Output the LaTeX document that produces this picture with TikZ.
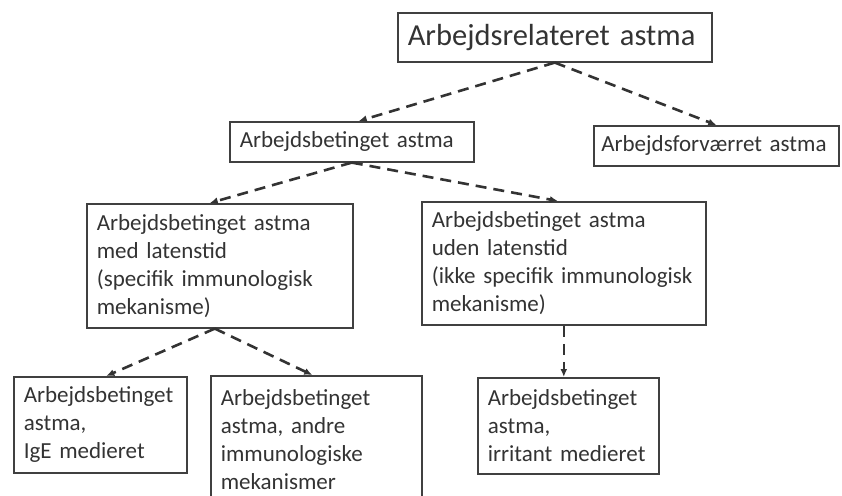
\documentclass[tikz,border=0pt]{standalone}
\usepackage{fontspec}
\setmainfont{Carlito}[WordSpace=0.8]
\usepackage{tikz}
\usetikzlibrary{positioning, arrows.meta}

\begin{document}
\begin{tikzpicture}[x=1pt, y=-1pt,
    box/.style={draw=black!75, line width=1.6pt, text=black!80, align=left,
      anchor=north west, inner sep=10pt, font=\fontsize{23}{28}\selectfont},
    link/.style={-{Latex[length=8pt,width=7pt]}, draw=black!80, line width=2.6pt,
      dash pattern=on 11pt off 7pt}]
    \useasboundingbox (0,0) rectangle (842,495);
    \clip (0,0) rectangle (842,495);

    % top level
    \node[box, text width=294pt, minimum height=49pt,
      font=\fontsize{30.5}{34}\selectfont] (rel) at (397,12) {Arbejdsrelateret astma};

    % second level
    \node[box, text width=224pt, minimum height=40pt] (bet) at (229,121) {Arbejdsbetinget astma};
    \node[box, text width=230pt, inner xsep=7.5pt, minimum height=38pt] (forv) at (593,125)
      {Arbejdsforværret astma};

    % third level
    \node[box, text width=246pt, minimum height=124pt] (med) at (86,203)
      {Arbejdsbetinget astma\\med latenstid\\(specifik immunologisk\\mekanisme)};
    \node[box, text width=264pt, minimum height=123pt] (uden) at (421,201)
      {Arbejdsbetinget astma\\uden latenstid\\(ikke specifik immunologisk\\mekanisme)};

    % bottom level
    \node[box, text width=153pt, minimum height=96pt] (ige) at (13,376)
      {Arbejdsbetinget\\astma,\\IgE medieret};
    \node[box, text width=191pt, inner ysep=8pt, minimum height=128pt] (andre) at (210,375)
      {Arbejdsbetinget\\astma, andre\\immunologiske\\mekanismer};
    \node[box, text width=161pt, minimum height=96pt] (irr) at (477,377)
      {Arbejdsbetinget\\astma,\\irritant medieret};

    % connectors
    \draw[link] (rel.south) -- ([xshift=7pt]bet.north);
    \draw[link] (rel.south) -- (forv.north);
    \draw[link] (bet.south) -- ([xshift=-10pt]med.north);
    \draw[link] (bet.south) -- ([xshift=-6pt]uden.north);
    \draw[link] ([xshift=-5pt]med.south) -- ([xshift=6pt]ige.north);
    \draw[link] ([xshift=-5pt]med.south) -- ([xshift=-4pt]andre.north);
    \draw[link] (uden.south) -- (uden.south |- irr.north);
\end{tikzpicture}
\end{document}
